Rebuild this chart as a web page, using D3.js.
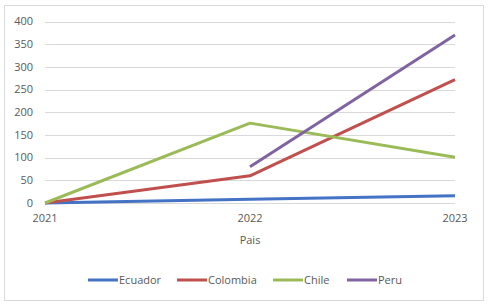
<!DOCTYPE html>
<html>
<head>
<meta charset="utf-8">
<script src="https://cdn.jsdelivr.net/npm/d3@7"></script>
<style>
  body { margin: 0; background: #fff; }
  svg { font-family: "Open Sans", "Liberation Sans", sans-serif; }
</style>
</head>
<body>
<svg id="chart"></svg>
<script>
const years = ["2021", "2022", "2023"];
const ecuador = [0, 8, 16];
const colombia = [0, 60, 272];
const chile = [0, 176, 101];
const peru = [null, 80, 370];
const yTicks = [0, 50, 100, 150, 200, 250, 300, 350, 400];

const seriesNames = ["Ecuador", "Colombia", "Chile", "Peru"];
const seriesValues = [ecuador, colombia, chile, peru];
const colors = ["#4472C4", "#C0504D", "#9BBB59", "#8064A2"];

const width = 492, height = 308;
const svg = d3.select("#chart").attr("width", width).attr("height", height);

// outer border
svg.append("rect")
  .attr("x", 4.5).attr("y", 5.5)
  .attr("width", 479).attr("height", 295)
  .attr("fill", "#fff")
  .attr("stroke", "#d9d9d9");

const x = d3.scalePoint().domain(years).range([45, 455]);
const y = d3.scaleLinear().domain([0, 400]).range([203, 21.5]);

// grid lines
svg.append("g").selectAll("line")
  .data(yTicks)
  .join("line")
  .attr("x1", 45).attr("x2", 455)
  .attr("y1", d => Math.round(y(d)) + 0.5)
  .attr("y2", d => Math.round(y(d)) + 0.5)
  .attr("stroke", "#d9d9d9");

// y labels
svg.append("g").selectAll("text")
  .data(yTicks)
  .join("text")
  .attr("x", 33)
  .attr("y", d => y(d))
  .attr("dy", "0.35em")
  .attr("text-anchor", "end")
  .attr("font-size", 11)
  .attr("fill", "#595959")
  .text(d => d);

// x labels
svg.append("g").selectAll("text")
  .data(years)
  .join("text")
  .attr("x", d => x(d))
  .attr("y", 222)
  .attr("text-anchor", "middle")
  .attr("font-size", 11)
  .attr("fill", "#595959")
  .text(d => d);

svg.append("text")
  .attr("x", 250).attr("y", 244)
  .attr("text-anchor", "middle")
  .attr("font-size", 11)
  .attr("fill", "#595959")
  .text("Pais");

// lines
const line = d3.line()
  .defined(d => d.v != null)
  .x(d => x(d.year))
  .y(d => y(d.v));

seriesValues.forEach((vals, i) => {
  svg.append("path")
    .datum(years.map((yr, j) => ({ year: yr, v: vals[j] })))
    .attr("d", line)
    .attr("fill", "none")
    .attr("stroke", colors[i])
    .attr("stroke-width", 3)
    .attr("stroke-linejoin", "round");
});

// legend
const legendX = [88, 177, 273, 347];
const legend = svg.append("g");
seriesNames.forEach((name, i) => {
  legend.append("line")
    .attr("x1", legendX[i]).attr("x2", legendX[i] + 30)
    .attr("y1", 280).attr("y2", 280)
    .attr("stroke", colors[i])
    .attr("stroke-width", 3);
  legend.append("text")
    .attr("x", legendX[i] + 31)
    .attr("y", 280)
    .attr("dy", "0.35em")
    .attr("font-size", 11)
    .attr("fill", "#595959")
    .text(name);
});
</script>
</body>
</html>
